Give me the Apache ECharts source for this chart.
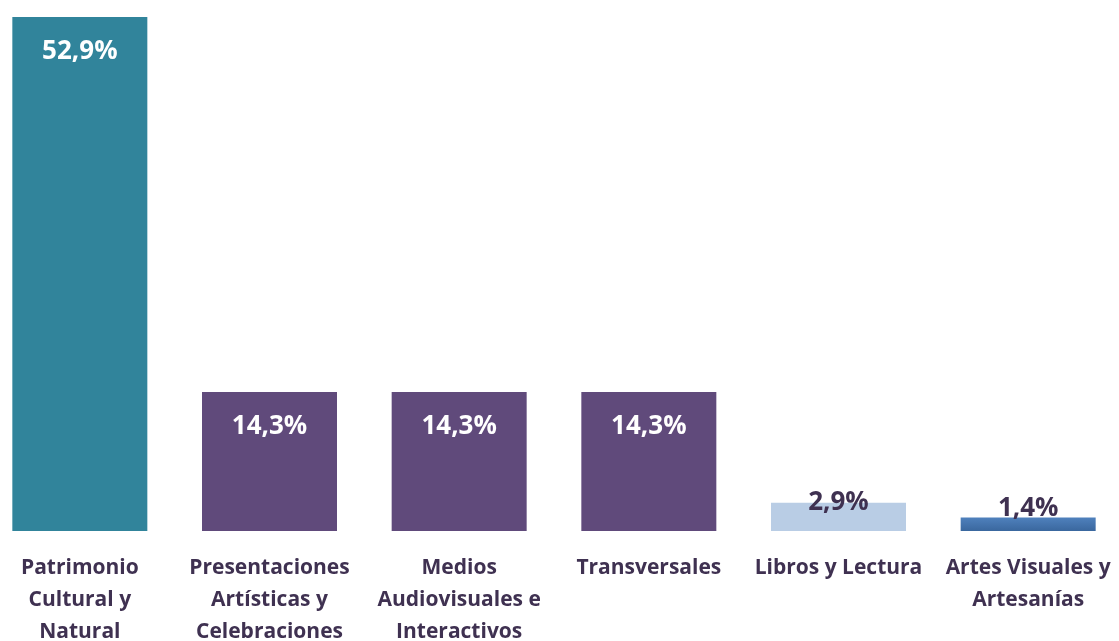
<!DOCTYPE html>
<html>
<head>
<meta charset="utf-8">
<script src="https://cdn.jsdelivr.net/npm/echarts@6/dist/echarts.min.js"></script>
<style>
  html, body { margin: 0; padding: 0; background: #fff; }
  #main { width: 1119px; height: 641px; }
</style>
</head>
<body>
<div id="main"></div>
<script>
// data
var categories = ['Patrimonio\nCultural y\nNatural', 'Presentaciones\nArtísticas y\nCelebraciones',
  'Medios\nAudiovisuales e\nInteractivos', 'Transversales', 'Libros y Lectura', 'Artes Visuales y\nArtesanías'];
var shares = [52.9, 14.3, 14.3, 14.3, 2.9, 1.4];

var barColors = [
  '#31849B', '#604A7B', '#604A7B', '#604A7B', '#B9CDE5',
  new echarts.graphic.LinearGradient(0, 0, 0, 1, [{offset: 0, color: '#4F81BD'}, {offset: 1, color: '#3A679E'}])
];

var font = '"Open Sans", Lato, sans-serif';

// small bars get their label sitting on top
var smallLabel = {4: -13, 5: -4};

var chart = echarts.init(document.getElementById('main'));

var data = shares.map(function (v, i) {
  var item = { value: v, itemStyle: { color: barColors[i] } };
  if (smallLabel[i] !== undefined) {
    item.label = { position: 'top', distance: smallLabel[i], color: '#3F3151' };
  }
  return item;
});

var option = {
  animation: false,
  grid: { left: -15, right: -4, top: 17, bottom: 110, containLabel: false, outerBoundsMode: 'none' },
  xAxis: {
    type: 'category',
    data: categories,
    axisLine: { show: false },
    axisTick: { show: false },
    axisLabel: {
      interval: 0,
      margin: 21,
      color: '#3F3151',
      fontFamily: font,
      fontWeight: 'bold',
      fontSize: 21,
      lineHeight: 32
    }
  },
  yAxis: {
    type: 'value',
    min: 0,
    max: 52.9,
    show: false,
    splitLine: { show: false }
  },
  series: [{
    type: 'bar',
    barWidth: 135,
    data: data,
    label: {
      show: true,
      position: 'insideTop',
      distance: 22,
      color: '#fff',
      fontFamily: font,
      fontWeight: 'bold',
      fontSize: 26,
      formatter: function (p) { return p.value.toFixed(1).replace('.', ',') + '%'; }
    }
  }]
};
chart.setOption(option);
</script>
</body>
</html>
